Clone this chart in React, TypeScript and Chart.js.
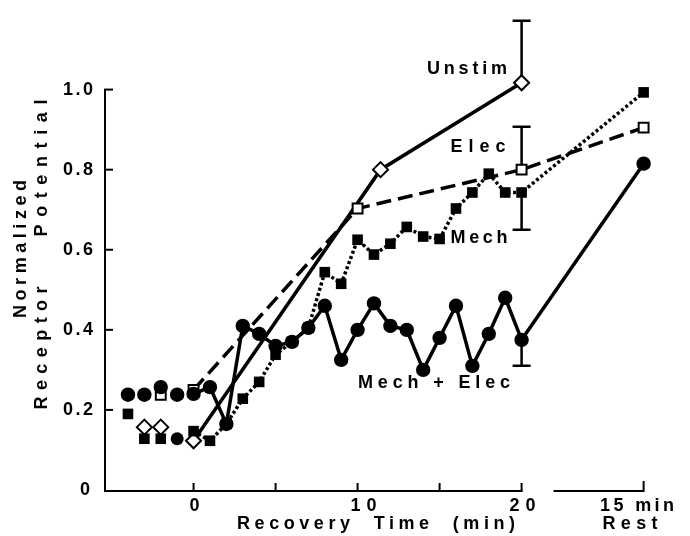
import React, { useEffect, useRef } from 'react';
import { Chart, registerables } from 'chart.js';

Chart.register(...registerables);

// ---- data (minutes of recovery; REST_X is the "15 min rest" position on the broken axis) ----
const REST_X = 27.44;

const mechElecX = [-4, -3, -2, -1, 0, 1, 2, 3, 4, 5, 6, 7, 8, 9, 10, 11, 12, 13, 14, 15, 16, 17, 18, 19, 20, REST_X];
const mechElecY = [0.238, 0.238, 0.257, 0.238, 0.24, 0.257, 0.165, 0.41, 0.39, 0.36, 0.37, 0.405, 0.46, 0.325, 0.40, 0.466, 0.41, 0.40, 0.30, 0.38, 0.46, 0.31, 0.39, 0.48, 0.375, 0.815];

const mechX = [-4, -3, -2, -1, 0, 1, 2, 3, 4, 5, 6, 7, 8, 9, 10, 11, 12, 13, 14, 15, 16, 17, 18, 19, 20, REST_X];
const mechY = [0.19, 0.128, 0.128, 0.128, 0.147, 0.123, 0.165, 0.228, 0.27, 0.338, 0.37, 0.405, 0.544, 0.515, 0.625, 0.588, 0.615, 0.657, 0.633, 0.627, 0.703, 0.743, 0.79, 0.743, 0.743, 0.993];

const elecX = [-2, 0, 10, 20, REST_X];
const elecY = [0.238, 0.25, 0.703, 0.80, 0.905];

const unstimX = [-3, -2, 0, 11.4, 20];
const unstimY = [0.157, 0.157, 0.123, 0.80, 1.017];

// error bars (one-sided): x, value at point, value at bar end
const errX = [20, 20, 20, 20];
const errPoint = [1.017, 0.80, 0.743, 0.375];
const errEnd = [1.172, 0.907, 0.65, 0.31];

// ticks
const yTicks = [0, 0.2, 0.4, 0.6, 0.8, 1.0];
const yTickLabels = ['0', '0.2', '0.4', '0.6', '0.8', '1.0'];
const xTicks = [0, 5, 10, 15, 20];
const xTickLabels = ['0', '', '10', '', '20'];
const restTickLabel = '15 min';
const REST_AXIS_START = 21.95;

const FONT = '"Liberation Sans", Arial, sans-serif';

function drawSpaced(ctx: CanvasRenderingContext2D, text: string, cx: number, cy: number, width: number, font: string, angle = 0) {
  ctx.save();
  ctx.translate(cx, cy);
  ctx.rotate(angle);
  ctx.font = font;
  (ctx as any).letterSpacing = '0px';
  const nat = ctx.measureText(text).width;
  const n = Array.from(text).length;
  const sp = n > 1 ? Math.max(0, (width - nat) / (n - 1)) : 0;
  (ctx as any).letterSpacing = sp + 'px';
  ctx.textAlign = 'left';
  ctx.textBaseline = 'middle';
  ctx.fillStyle = '#000';
  ctx.fillText(text, -width / 2, 0);
  ctx.restore();
}

const paperPlugin = {
  id: 'paper',
  beforeDatasetsDraw(chart: any) {
    const ctx: CanvasRenderingContext2D = chart.ctx;
    const xs = chart.scales.x;
    const ys = chart.scales.y;
    ctx.save();
    ctx.strokeStyle = '#000';
    ctx.lineWidth = 2.5;
    for (let i = 0; i < errX.length; i++) {
      const x = xs.getPixelForValue(errX[i]);
      const y1 = ys.getPixelForValue(errPoint[i]);
      const y2 = ys.getPixelForValue(errEnd[i]);
      ctx.beginPath();
      ctx.moveTo(x, y1);
      ctx.lineTo(x, y2);
      ctx.moveTo(x - 9, y2);
      ctx.lineTo(x + 9, y2);
      ctx.stroke();
    }
    ctx.restore();
  },
  afterDraw(chart: any) {
    const ctx: CanvasRenderingContext2D = chart.ctx;
    const xs = chart.scales.x;
    const ys = chart.scales.y;
    const left = chart.chartArea.left;
    const y0 = ys.getPixelForValue(0) + 1;
    ctx.save();
    ctx.strokeStyle = '#000';
    ctx.lineWidth = 2;
    // y axis
    ctx.beginPath();
    ctx.moveTo(left, ys.getPixelForValue(1.0));
    ctx.lineTo(left, y0 + 1);
    ctx.stroke();
    for (const v of yTicks) {
      if (v === 0) continue;
      const y = ys.getPixelForValue(v);
      ctx.beginPath();
      ctx.moveTo(left - 1, y);
      ctx.lineTo(left + 8, y);
      ctx.stroke();
    }
    // x axis main segment
    ctx.beginPath();
    ctx.moveTo(left - 1, y0);
    ctx.lineTo(xs.getPixelForValue(20) + 1, y0);
    ctx.stroke();
    for (const v of xTicks) {
      const x = xs.getPixelForValue(v);
      ctx.beginPath();
      ctx.moveTo(x, y0);
      ctx.lineTo(x, y0 - 8);
      ctx.stroke();
    }
    // rest segment
    ctx.beginPath();
    ctx.moveTo(xs.getPixelForValue(REST_AXIS_START), y0);
    ctx.lineTo(xs.getPixelForValue(REST_X) + 1, y0);
    ctx.moveTo(xs.getPixelForValue(REST_X), y0);
    ctx.lineTo(xs.getPixelForValue(REST_X), y0 - 10);
    ctx.stroke();
    ctx.restore();

    const tickFont = `bold 18px ${FONT}`;
    const boldFont = `bold 18px ${FONT}`;
    // y tick labels
    yTicks.forEach((v, i) => {
      const y = ys.getPixelForValue(v);
      if (yTickLabels[i] === '0') drawSpaced(ctx, '0', 85, y, 10, tickFont);
      else drawSpaced(ctx, yTickLabels[i], 78, y, 30, tickFont);
    });
    // x tick labels
    xTicks.forEach((v, i) => {
      const lab = xTickLabels[i];
      if (!lab) return;
      const x = xs.getPixelForValue(v);
      const w = lab.length === 1 ? 10 : 26;
      const shift = lab === '10' ? 6 : lab === '20' ? 1 : 1;
      drawSpaced(ctx, lab, x + shift, 506, w, tickFont);
    });
    drawSpaced(ctx, restTickLabel, 637, 506, 74, tickFont);

    // axis titles
    drawSpaced(ctx, 'Recovery  Time  (min)', 376, 524, 278, boldFont);
    drawSpaced(ctx, 'Rest', 630, 524, 55, boldFont);
    drawSpaced(ctx, 'Normalized', 21, 249, 138, boldFont, -Math.PI / 2);
    drawSpaced(ctx, 'Potential', 42, 168, 137, boldFont, -Math.PI / 2);
    drawSpaced(ctx, 'Receptor', 42, 348, 123, boldFont, -Math.PI / 2);

    // series labels
    drawSpaced(ctx, 'Unstim', 467, 69, 80, boldFont);
    drawSpaced(ctx, 'Elec', 478, 147, 55, boldFont);
    drawSpaced(ctx, 'Mech', 479, 238, 57, boldFont);
    drawSpaced(ctx, 'Mech + Elec', 434, 383, 152, boldFont);
  },
};

const pts = (xs: number[], ys: number[]) => xs.map((x, i) => ({ x, y: ys[i] }));
const hideBaseline = {
  borderColor: (c: any) => (c.p0.parsed.x < 0 ? 'rgba(0,0,0,0)' : undefined),
};

export default function App() {
  const ref = useRef<HTMLCanvasElement>(null);
  useEffect(() => {
    document.body.style.margin = '0';
    if (!ref.current) return;
    const chart = new Chart(ref.current, {
      type: 'scatter',
      data: {
        datasets: [
          {
            label: 'Mech + Elec',
            data: pts(mechElecX, mechElecY),
            showLine: true,
            borderColor: '#000',
            borderWidth: 3.5,
            pointStyle: 'circle',
            pointRadius: 7.2,
            pointBackgroundColor: '#000',
            pointBorderColor: '#000',
            pointBorderWidth: 0,
            segment: hideBaseline,
            clip: false,
          } as any,
          {
            label: 'Mech',
            data: pts(mechX, mechY),
            showLine: true,
            borderColor: '#000',
            borderWidth: 3.5,
            borderDash: [3, 2.5],
            pointStyle: (c: any) => (c.dataIndex === 3 ? 'circle' : 'rect'),
            pointRadius: (c: any) => (c.dataIndex === 3 ? 6.5 : 7.5),
            pointBackgroundColor: '#000',
            pointBorderColor: '#000',
            pointBorderWidth: 0,
            segment: hideBaseline,
            clip: false,
          } as any,
          {
            label: 'Elec',
            data: pts(elecX, elecY),
            showLine: true,
            borderColor: '#000',
            borderWidth: 3.5,
            borderDash: [15, 7],
            pointStyle: 'rect',
            pointRadius: 7,
            pointBackgroundColor: '#fff',
            pointBorderColor: '#000',
            pointBorderWidth: 2,
            segment: hideBaseline,
            clip: false,
          } as any,
          {
            label: 'Unstim',
            data: pts(unstimX, unstimY),
            showLine: true,
            borderColor: '#000',
            borderWidth: 3.5,
            pointStyle: 'rectRot',
            pointRadius: 7.5,
            pointBackgroundColor: '#fff',
            pointBorderColor: '#000',
            pointBorderWidth: 2,
            segment: hideBaseline,
            clip: false,
          } as any,
        ],
      },
      options: {
        responsive: false,
        animation: false,
        events: [],
        layout: { padding: { left: 105, right: 29, top: 0, bottom: 46 } },
        scales: {
          x: { type: 'linear', min: -5.4, max: 28.5, display: false },
          y: { type: 'linear', min: 0, max: 1.2, display: false },
        },
        plugins: { legend: { display: false }, tooltip: { enabled: false }, title: { display: false } },
      },
      plugins: [paperPlugin],
    });
    return () => chart.destroy();
  }, []);
  return <canvas ref={ref} width={690} height={536} style={{ display: 'block' }} />;
}
